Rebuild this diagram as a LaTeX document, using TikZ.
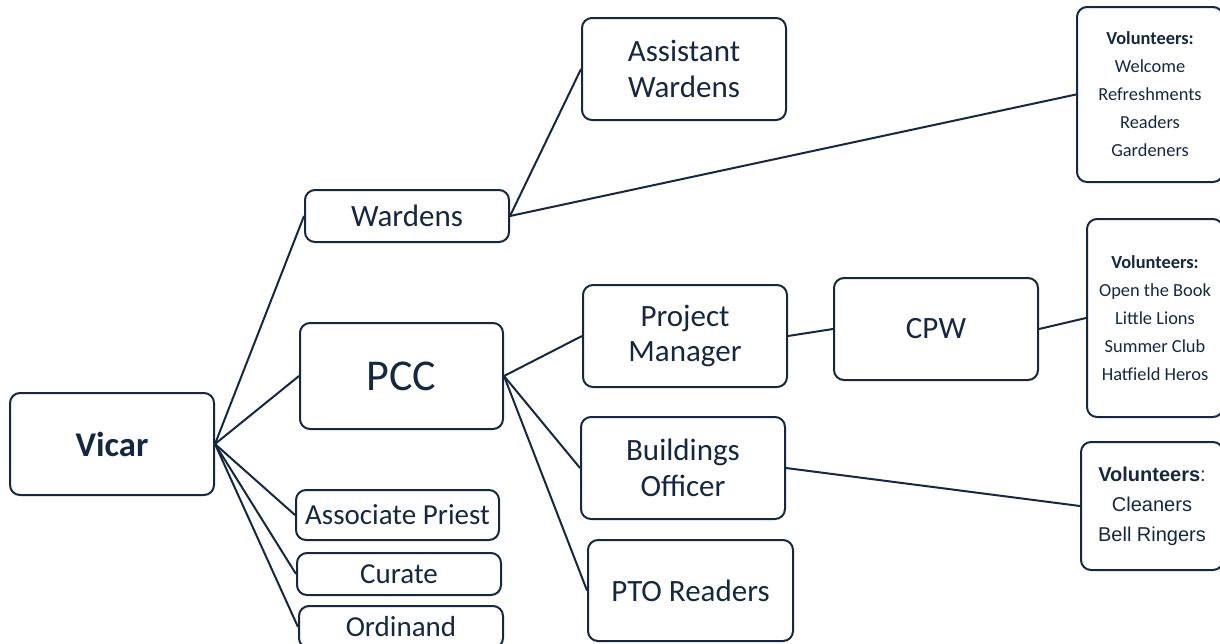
\documentclass[tikz,border=0pt]{standalone}
\usepackage{fontspec}
\setmainfont{Carlito}
\newfontfamily\arialf{Liberation Sans}
\newlength\px \setlength\px{0.75pt}
\definecolor{navy}{HTML}{15283F}
\tikzset{
  box/.style={draw=navy, line width=2\px, rounded corners=10\px, text=navy, align=center, inner sep=0pt},
  big/.style={font=\fontsize{23.25}{26.5}\selectfont},
  mid/.style={font=\fontsize{21.75}{24}\selectfont},
  vol/.style={font=\fontsize{13.8}{21}\selectfont},
  link/.style={draw=navy, line width=2\px}
}
\begin{document}
\begin{tikzpicture}[x=0.75pt,y=-0.75pt]
\useasboundingbox (0,0) rectangle (1220,643);
\node[box, minimum width=204\px, minimum height=102\px, font=\fontsize{26}{30}\selectfont\bfseries] (vicar) at (112,444) {Vicar};
\node[box, big, minimum width=204\px, minimum height=52\px] (wardens) at (407,216) {Wardens};
\node[box, big, minimum width=204\px, minimum height=102\px] (asst) at (684,69) {Assistant\\Wardens};
\node[box, vol, minimum width=146\px, minimum height=175\px] (vol1) at (1150,94.5) {\textbf{Volunteers:}\\Welcome\\Refreshments\\Readers\\Gardeners};
\node[box, minimum width=203\px, minimum height=106\px, font=\fontsize{33}{36}\selectfont] (pcc) at (401.5,376) {PCC};
\node[box, big, minimum width=204\px, minimum height=102\px] (pm) at (685,336) {Project\\Manager};
\node[box, big, minimum width=204\px, minimum height=102\px] (cpw) at (936,329) {CPW};
\node[box, vol, minimum width=136\px, minimum height=198\px] (vol2) at (1155,318) {\textbf{Volunteers:}\\Open the Book\\Little Lions\\Summer Club\\Hatfield Heros};
\node[box, big, minimum width=204\px, minimum height=102\px] (bo) at (683,468) {Buildings\\Officer};
\node[box, minimum width=142\px, minimum height=128\px, font=\arialf\fontsize{15}{22.5}\selectfont] (vol3) at (1152,506) {\textbf{Volunteers}:\\Cleaners\\Bell Ringers};
\node[box, big, minimum width=205\px, minimum height=101\px] (pto) at (690.5,590.5) {PTO Readers};
\node[box, mid, minimum width=203\px, minimum height=50\px] (ap) at (397.5,515) {Associate Priest};
\node[box, mid, minimum width=204\px, minimum height=42\px] (curate) at (399,574) {Curate};
\node[box, mid, minimum width=204\px, minimum height=42\px] (ord) at (401,627) {Ordinand};
\draw[link] (vicar.east) -- (wardens.west);
\draw[link] (vicar.east) -- (pcc.west);
\draw[link] (vicar.east) -- (ap.west);
\draw[link] (vicar.east) -- (curate.west);
\draw[link] (vicar.east) -- (ord.west);
\draw[link] (wardens.east) -- (asst.west);
\draw[link] (wardens.east) -- (vol1.west);
\draw[link] (pcc.east) -- (pm.west);
\draw[link] (pcc.east) -- (bo.west);
\draw[link] (pcc.east) -- (pto.west);
\draw[link] (pm.east) -- (cpw.west);
\draw[link] (cpw.east) -- (vol2.west);
\draw[link] (bo.east) -- (vol3.west);
\end{tikzpicture}
\end{document}
